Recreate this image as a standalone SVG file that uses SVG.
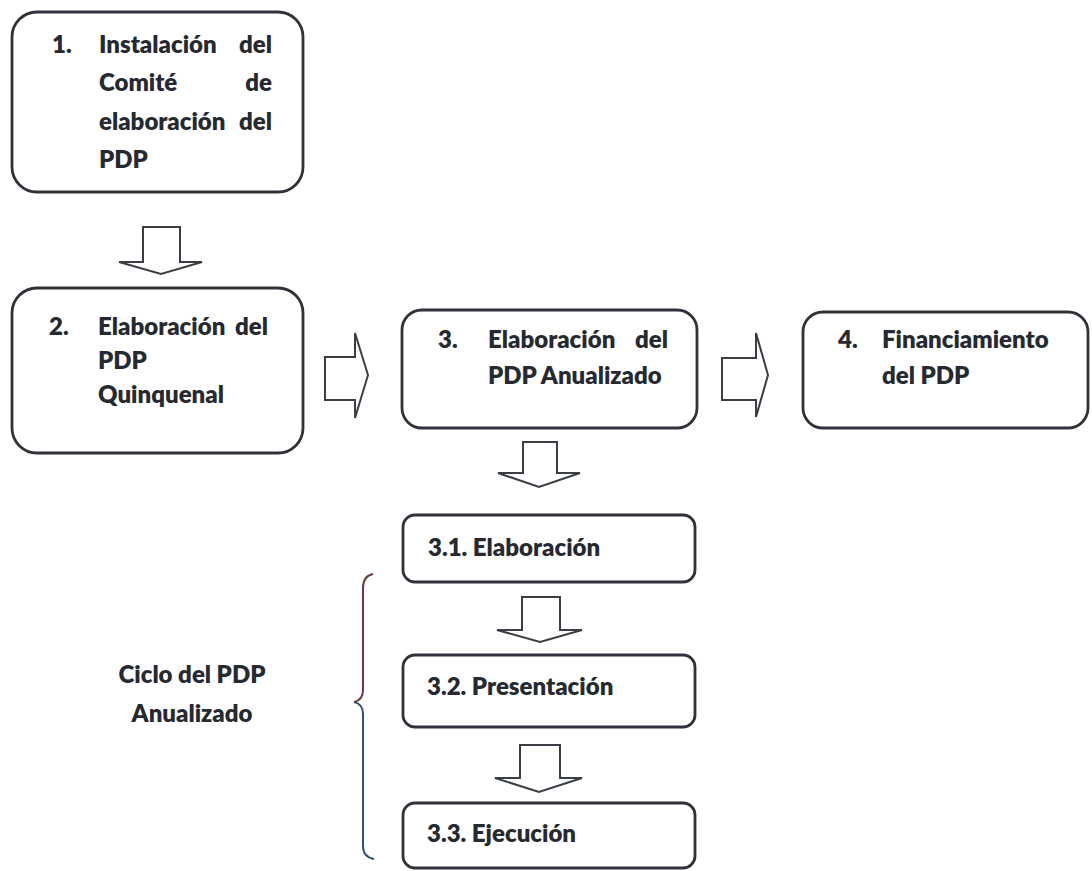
<svg xmlns="http://www.w3.org/2000/svg" width="1092" height="871" viewBox="0 0 1092 871">
<style>
.box{fill:#ffffff;stroke:#2f3339;stroke-width:2.8}
.arr{fill:#ffffff;stroke:#3a3e45;stroke-width:2;stroke-linejoin:miter}
.t{font-family:Lato,"Liberation Sans",sans-serif;font-weight:800;font-size:24px;fill:#262a30}
.e{text-anchor:end}
.m{text-anchor:middle}
</style>
<rect width="1092" height="871" fill="#ffffff"/>
<g id="connectors">
<polygon class="arr" points="143,227 180,227 180,262 202,262 161,274 119,262 143,262"/>
<polygon class="arr" points="325,357 355,357 355,333 368,375 355,418 355,400 325,400"/>
<polygon class="arr" points="722,358 756,358 756,333 768,375 756,417 756,400 722,400"/>
<polygon class="arr" points="523,442 557,442 557,473 580,473 539,487 498,473 523,473"/>
<polygon class="arr" points="522,597 560,597 560,630 582,630 540,642 497,630 522,630"/>
<polygon class="arr" points="520,745 560,745 560,778 582,778 539,792 495,778 520,778"/>
</g>
<g id="node1">
<rect class="box" x="12" y="12" width="291" height="180" rx="25"/>
<text class="t" x="52" y="53">1.</text>
<text class="t" x="99" y="53">Instalación</text>
<text class="t e" x="272" y="53">del</text>
<text class="t" x="99" y="91">Comité</text>
<text class="t e" x="272" y="91">de</text>
<text class="t" x="99" y="130">elaboración</text>
<text class="t e" x="272" y="130">del</text>
<text class="t" x="99" y="168">PDP</text>
</g>
<g id="node2">
<rect class="box" x="12" y="288" width="291" height="165" rx="25"/>
<text class="t" x="49" y="335">2.</text>
<text class="t" x="98" y="335">Elaboración</text>
<text class="t e" x="268" y="335">del</text>
<text class="t" x="98" y="369">PDP</text>
<text class="t" x="98" y="403">Quinquenal</text>
</g>
<g id="node3">
<rect class="box" x="402" y="310" width="295" height="118" rx="20"/>
<text class="t" x="438" y="348">3.</text>
<text class="t" x="488" y="348">Elaboración</text>
<text class="t e" x="668" y="348">del</text>
<text class="t" x="488" y="384">PDP Anualizado</text>
</g>
<g id="node4">
<rect class="box" x="803" y="312" width="285" height="116" rx="20"/>
<text class="t" x="838" y="348">4.</text>
<text class="t" x="882" y="348">Financiamiento</text>
<text class="t" x="882" y="384">del PDP</text>
</g>
<g id="node31">
<rect class="box" x="403" y="515" width="292" height="67" rx="12"/>
<text class="t" x="428" y="556">3.1. Elaboración</text>
</g>
<g id="node32">
<rect class="box" x="403" y="655" width="292" height="72" rx="12"/>
<text class="t" x="427" y="695">3.2. Presentación</text>
</g>
<g id="node33">
<rect class="box" x="403" y="803" width="292" height="65" rx="12"/>
<text class="t" x="427" y="842">3.3. Ejecución</text>
</g>
<g id="brace">
<path d="M373,574 Q363,576 363,588 L363,690 Q363,700 354,702" fill="none" stroke="#6e3a3c" stroke-width="2"/>
<path d="M354,702 Q363,704 363,714 L363,846 Q363,857 374,859" fill="none" stroke="#34507a" stroke-width="2"/>
<text class="t m" x="192" y="683">Ciclo del PDP</text>
<text class="t m" x="192" y="722">Anualizado</text>
</g>
</svg>
